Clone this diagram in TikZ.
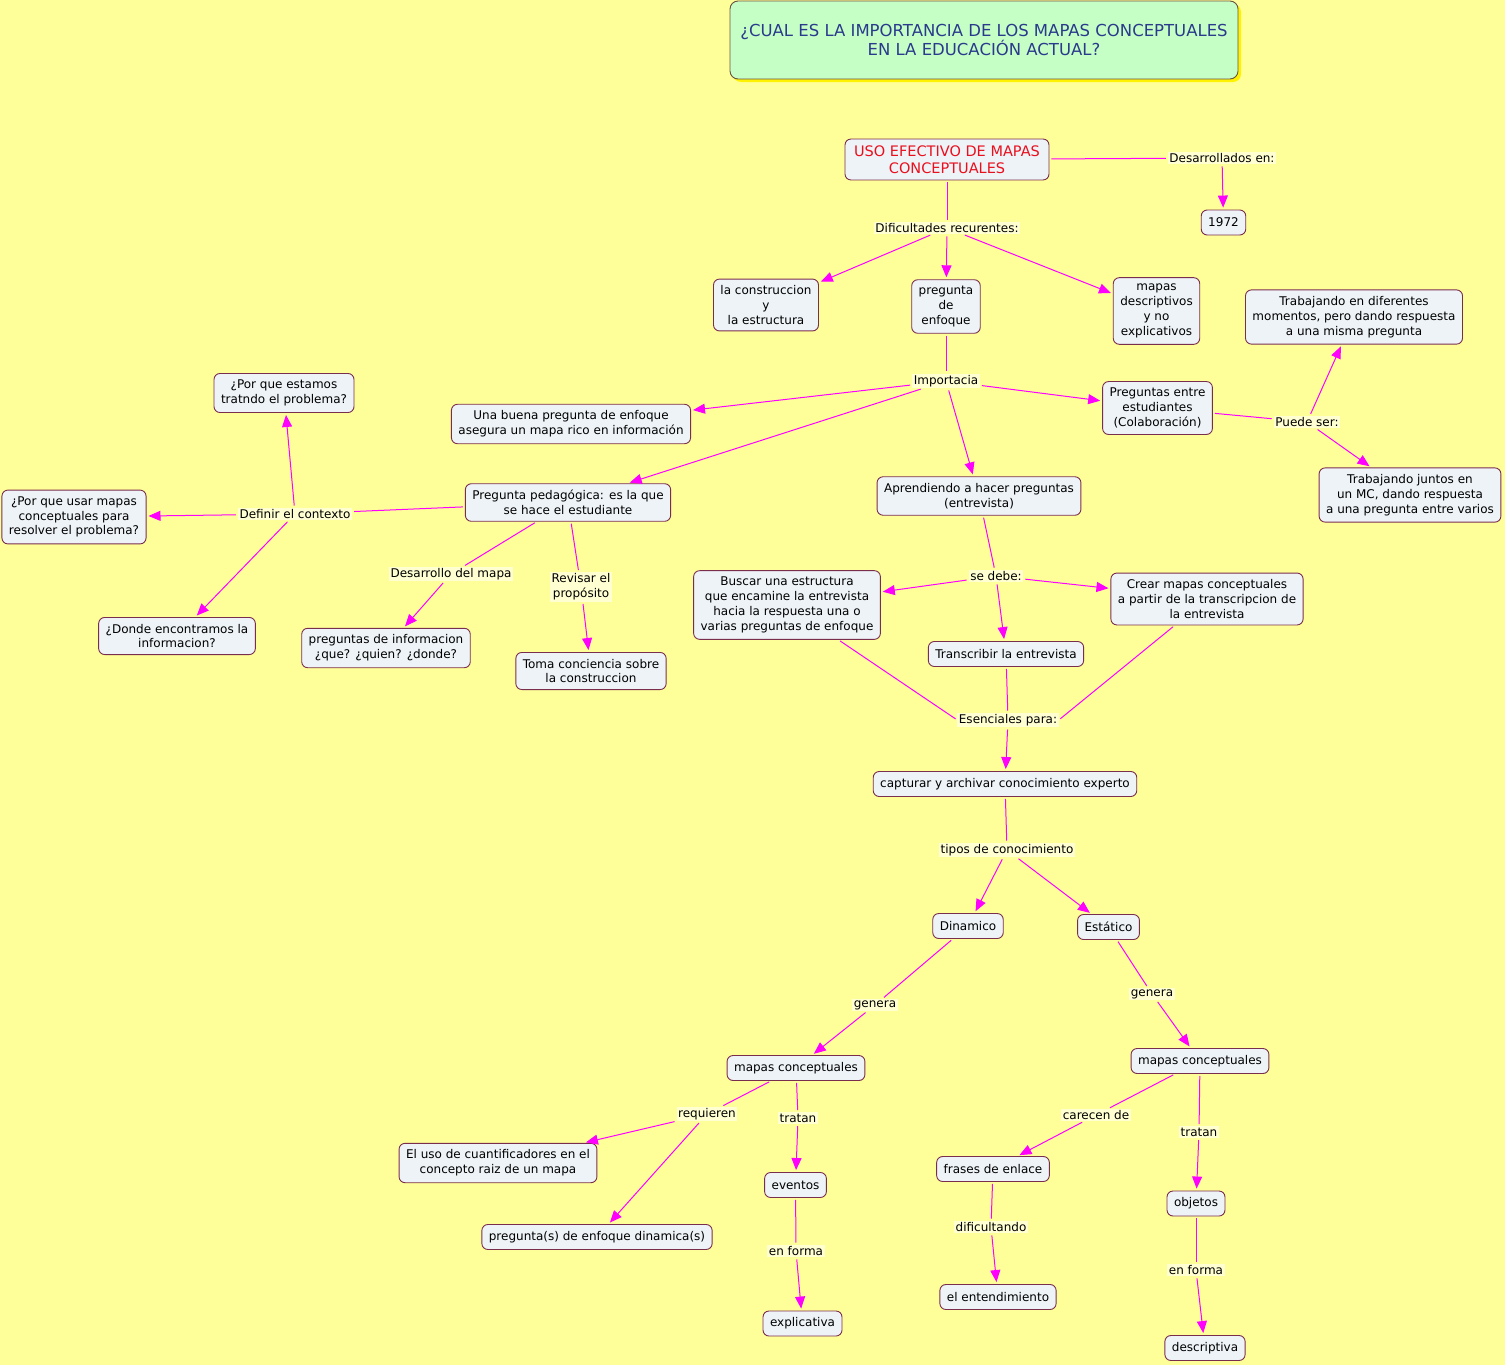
\documentclass[tikz,border=0pt]{standalone}
\usepackage{fontspec}
\setmainfont{DejaVu Sans}
\usetikzlibrary{positioning, arrows.meta, shadows}
\definecolor{cmapBack}{HTML}{FFFF99}
\definecolor{cmapLink}{HTML}{FFFFD2}
\definecolor{cmapFill}{HTML}{EEF3F7}
\definecolor{cmapBorder}{HTML}{7A2E4E}
\definecolor{cmapLine}{HTML}{FF00FF}
\definecolor{titleGreen}{HTML}{C6FFC6}
\definecolor{titleBorder}{HTML}{6E5040}
\definecolor{titleBlue}{HTML}{2A3A8C}
\definecolor{rootRed}{HTML}{E8101E}

\begin{document}
\begin{tikzpicture}[x=1pt, y=-1pt, font=\fontsize{12}{14.8}\selectfont,
    concept/.style={draw=cmapBorder, line width=0.9pt, fill=cmapFill, rounded corners=6pt, align=center,
                    inner xsep=7pt, inner ysep=6.5pt, minimum height=25pt},
    linkph/.style={fill=cmapLink, inner sep=1.5pt, align=center},
    conn/.style={cmapLine, line width=1pt, shorten <=2pt, shorten >=2pt},
    arr/.style={conn, -{Triangle[length=12pt, width=10pt]}}]
    \fill[cmapBack] (0,0) rectangle (1505,1365);

    % title and root
    \node[draw=titleBorder, line width=0.9pt, fill=titleGreen, rounded corners=8pt, minimum width=508pt,
          minimum height=78pt, align=center, text=titleBlue, font=\fontsize{16.5}{19}\selectfont,
          general shadow={fill=yellow, shadow xshift=3pt, shadow yshift=-3pt}] (title) at (984,40)
          {¿CUAL ES LA IMPORTANCIA DE LOS MAPAS CONCEPTUALES\\EN LA EDUCACIÓN ACTUAL?};
    \node[concept, text=rootRed, font=\fontsize{14.5}{17}\selectfont, minimum width=204pt] (root) at (947,159.5)
          {USO EFECTIVO DE MAPAS\\CONCEPTUALES};
    \node[linkph] (desarr) at (1222,158) {Desarrollados en:};
    \node[concept] (anio) at (1223.5,222.5) {1972};
    \node[linkph] (dific) at (947,228) {Dificultades recurentes:};
    \node[concept] (constr) at (766,305) {la construccion\\y\\la estructura};
    \node[concept] (pregEnf) at (946,306.5) {pregunta\\de\\enfoque};
    \node[concept] (mapDesc) at (1156.5,311) {mapas\\descriptivos\\y no\\explicativos};

    % importancia
    \node[linkph] (import) at (946,381) {Importacia};
    \node[concept] (unaBuena) at (571,424) {Una buena pregunta de enfoque\\asegura un mapa rico en información};
    \node[concept] (pregEntre) at (1157.5,408) {Preguntas entre\\estudiantes\\(Colaboración)};
    \node[linkph] (puede) at (1307,422) {Puede ser:};
    \node[concept] (trabDif) at (1354,317) {Trabajando en diferentes\\momentos, pero dando respuesta\\a una misma pregunta};
    \node[concept] (trabJunt) at (1410,495) {Trabajando juntos en\\un MC, dando respuesta\\a una pregunta entre varios};
    \node[concept] (pregPed) at (568,502.5) {Pregunta pedagógica: es la que\\se hace el estudiante};
    \node[concept] (aprend) at (979,496) {Aprendiendo a hacer preguntas\\(entrevista)};

    % left branch
    \node[linkph] (definir) at (295,514) {Definir el contexto};
    \node[concept] (porQueEst) at (284,393) {¿Por que estamos\\tratndo el problema?};
    \node[concept] (porQueUsar) at (74,517) {¿Por que usar mapas\\conceptuales para\\resolver el problema?};
    \node[concept] (donde) at (177,636) {¿Donde encontramos la\\informacion?};
    \node[linkph] (desarMapa) at (451,574) {Desarrollo del mapa};
    \node[linkph] (revisar) at (581,587) {Revisar el\\propósito};
    \node[concept] (pregInfo) at (386,648) {preguntas de informacion\\¿que? ¿quien? ¿donde?};
    \node[concept] (toma) at (591,671) {Toma conciencia sobre\\la construccion};

    % entrevista
    \node[linkph] (seDebe) at (996,576) {se debe:};
    \node[concept] (buscar) at (787,605) {Buscar una estructura\\que encamine la entrevista\\hacia la respuesta una o\\varias preguntas de enfoque};
    \node[concept] (crear) at (1207,599) {Crear mapas conceptuales\\a partir de la transcripcion de\\la entrevista};
    \node[concept] (transcr) at (1006,654) {Transcribir la entrevista};
    \node[linkph] (esenc) at (1008,720) {Esenciales para:};
    \node[concept] (capturar) at (1005,784) {capturar y archivar conocimiento experto};
    \node[linkph] (tipos) at (1007,850) {tipos de conocimiento};
    \node[concept] (dinam) at (968,926) {Dinamico};
    \node[concept] (estat) at (1108.5,927) {Estático};

    % dinamico
    \node[linkph] (generaL) at (875,1005) {genera};
    \node[concept] (mapasL) at (796,1068) {mapas conceptuales};
    \node[linkph] (requieren) at (707,1114) {requieren};
    \node[linkph] (tratanL) at (798,1118) {tratan};
    \node[concept] (cuant) at (498,1163) {El uso de cuantificadores en el\\concepto raiz de un mapa};
    \node[concept] (pregDin) at (597,1237) {pregunta(s) de enfoque dinamica(s)};
    \node[concept] (eventos) at (795.5,1185) {eventos};
    \node[linkph] (formaL) at (796,1251) {en forma};
    \node[concept] (explic) at (802.5,1323.5) {explicativa};

    % estatico
    \node[linkph] (generaR) at (1152,994) {genera};
    \node[concept] (mapasR) at (1200,1061) {mapas conceptuales};
    \node[linkph] (carecen) at (1096,1115) {carecen de};
    \node[linkph] (tratanR) at (1199,1132) {tratan};
    \node[concept] (frases) at (993,1169) {frases de enlace};
    \node[concept] (objetos) at (1196,1203.5) {objetos};
    \node[linkph] (dificult) at (991,1227) {dificultando};
    \node[concept] (entend) at (998,1297) {el entendimiento};
    \node[linkph] (formaR) at (1196,1270) {en forma};
    \node[concept] (descr) at (1205,1348) {descriptiva};

    % connectors
    \foreach \a/\b in {root/desarr, root/dific, pregEnf/import, pregEntre/puede, pregPed/definir,
                       pregPed/desarMapa, pregPed/revisar, aprend/seDebe, buscar/esenc.west,
                       transcr/esenc, crear/esenc.east, capturar/tipos, dinam/generaL, estat/generaR,
                       mapasL/requieren, mapasL/tratanL, eventos/formaL, mapasR/carecen,
                       mapasR/tratanR, frases/dificult, objetos/formaR}
      \draw[conn] (\a) -- (\b);
    \foreach \a/\b in {desarr/anio, dific/constr, dific/pregEnf, dific/mapDesc, import/unaBuena,
                       import/pregPed, import/aprend, import/pregEntre, puede/trabDif, puede/trabJunt,
                       definir/porQueEst, definir/porQueUsar, definir/donde, desarMapa/pregInfo,
                       revisar/toma, seDebe/buscar, seDebe/transcr, seDebe/crear, esenc/capturar,
                       tipos/dinam, tipos/estat, generaL/mapasL, generaR/mapasR, requieren/cuant,
                       requieren/pregDin, tratanL/eventos, formaL/explic, carecen/frases,
                       tratanR/objetos, dificult/entend, formaR/descr}
      \draw[arr] (\a) -- (\b);
\end{tikzpicture}
\end{document}
